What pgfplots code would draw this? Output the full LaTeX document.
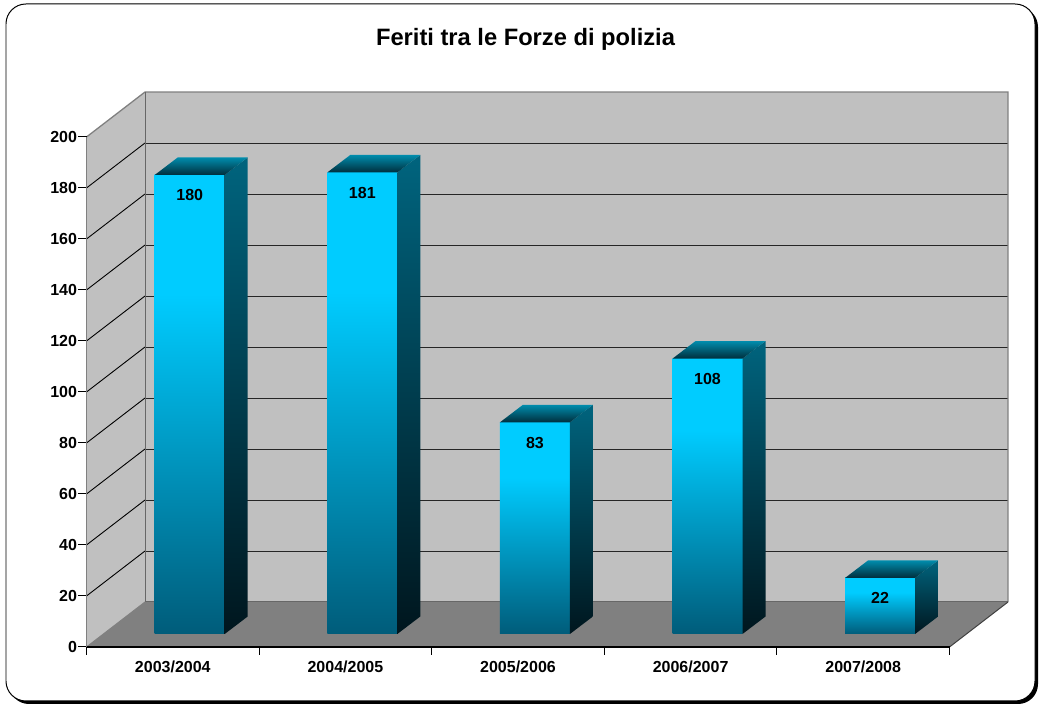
\documentclass[border=0pt]{standalone}
\usepackage{pgfplots}
\pgfplotsset{compat=1.18}
\usepackage{pgfplotstable}
\usepackage{fontspec}
\setmainfont{Liberation Sans}

\definecolor{wallc}{RGB}{192,192,192}
\definecolor{floorc}{RGB}{128,128,128}
\definecolor{edgec}{RGB}{128,128,128}
\definecolor{cyanc}{RGB}{0,204,255}
\definecolor{tealc}{RGB}{0,92,122}
\definecolor{sidet}{RGB}{0,100,126}
\definecolor{sideb}{RGB}{0,22,30}
\definecolor{topb}{RGB}{0,140,172}
\definecolor{topf}{RGB}{0,46,60}

\pgfdeclareverticalshading{frontsh}{100bp}{color(0bp)=(tealc); color(25bp)=(tealc); color(62bp)=(cyanc); color(100bp)=(cyanc)}
\pgfdeclareverticalshading{sidesh}{100bp}{color(0bp)=(sideb); color(25bp)=(sideb); color(75bp)=(sidet); color(100bp)=(sidet)}
\pgfdeclareverticalshading{topsh}{100bp}{color(0bp)=(topf); color(25bp)=(topf); color(75bp)=(topb); color(100bp)=(topb)}

% 3D bar drawn from the data point (value on the front plane);
% the bar itself stands 13bp deeper (shifted 16.9bp right, 13bp up)
\pgfdeclareplotmark{bar3d}{%
  \pgfkeys{/pgf/fpu=true,/pgf/fpu/output format=fixed}%
  \pgfmathsetmacro\hh{-2.55*\val+13}%
  \pgfmathsetmacro\hs{-2.55*\val+30.5}%
  \pgfkeys{/pgf/fpu=false}%
  \shade[draw=none, shading=frontsh] (-18.1bp,\hh bp) rectangle (51.9bp,13bp);
  \shade[draw=none, shading=sidesh] (51.9bp,\hh bp) -- (74.9bp,\hs bp) -- (74.9bp,30.5bp) -- (51.9bp,13bp) -- cycle;
  \shade[draw=none, shading=topsh] (-18.1bp,13bp) -- (51.9bp,13bp) -- (74.9bp,30.5bp) -- (4.9bp,30.5bp) -- cycle;
}

\pgfplotstableread{
x v lab
0 180 2003/2004
1 181 2004/2005
2 83 2005/2006
3 108 2006/2007
4 22 2007/2008
}\data

\begin{document}
\begin{tikzpicture}
\begin{scope}[x=1bp,y=1bp]
\useasboundingbox (0,0) rectangle (1039,706);
% frame with shadow
\fill[black, rounded corners=20] (9,2) rectangle (1038,699);
\filldraw[fill=white, draw=black, line width=1, rounded corners=20] (6,5) rectangle (1035,702);
% title
\node[font=\bfseries\fontsize{23.7bp}{27bp}\selectfont, anchor=base] at (525.5,660) {Feriti tra le Forze di polizia};
% walls and floor
\fill[wallc] (145,104) rectangle (1008,614);
\fill[wallc] (86.5,59) -- (145,104) -- (145,614) -- (86.5,569) -- cycle;
\fill[floorc] (86.5,59) -- (949.5,59) -- (1008,104) -- (145,104) -- cycle;
\foreach \v in {20,40,...,180} {
  \draw[black!85, line width=0.9] (145,104+2.55*\v) -- (1008,104+2.55*\v);
  \draw[black, line width=0.9] (86.5,59+2.55*\v) -- (145,104+2.55*\v);
}
\draw[edgec, line width=1.3] (86.5,569) -- (145,614) -- (1008,614) -- (1008,104);
\draw[edgec!120, line width=1] (145,614) -- (145,104) -- (1008,104);
\draw[edgec, line width=1] (86.5,59) -- (145,104);
\draw[black!75, line width=1] (949.5,59) -- (1008,104);
\end{scope}

\begin{axis}[
  at={(86.5bp,59bp)}, anchor=south west,
  scale only axis, width=863bp, height=510bp,
  xmin=-0.5, xmax=4.5, ymin=0, ymax=200,
  clip=false,
  axis x line*=bottom, axis y line*=left,
  x axis line style={black, line width=1.8bp, -},
  y axis line style={edgec, line width=1bp, -},
  xtick={-0.5,0.5,...,4.5},
  x tick label as interval,
  xticklabels={2003/2004,2004/2005,2005/2006,2006/2007,2007/2008},
  ytick={0,20,...,200},
  tick style={black, line width=1bp},
  tick align=outside, major tick length=8bp,
  tick label style={font=\bfseries\fontsize{16bp}{18bp}\selectfont},
  yticklabel style={xshift=2bp},
  xticklabel style={yshift=-2bp},
  /pgf/number format/assume math mode=true,
]
\addplot[
  only marks, mark=bar3d,
  visualization depends on={\thisrow{v} \as \val},
  nodes near coords,
  every node near coord/.append style={anchor=center, xshift=16.9bp, yshift=-7.5bp,
    font=\bfseries\fontsize{16bp}{18bp}\selectfont, text=black},
] table[x=x, y=v] {\data};
\end{axis}
\end{tikzpicture}
\end{document}
